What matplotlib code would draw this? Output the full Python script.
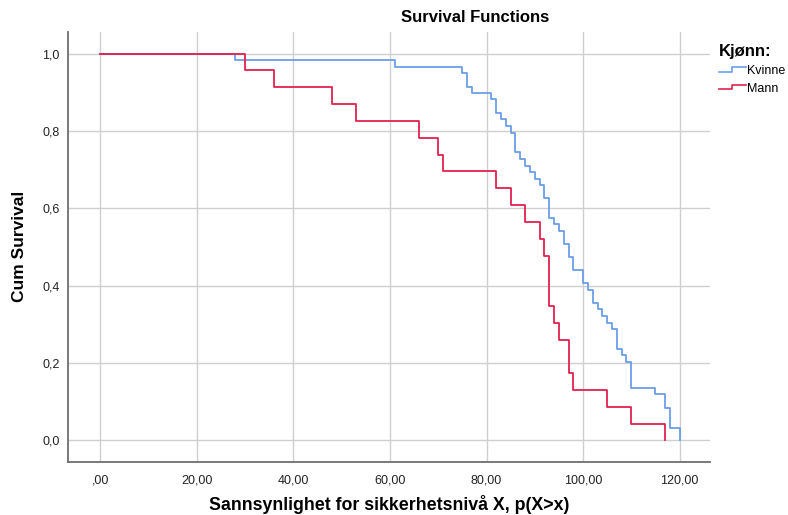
import matplotlib
matplotlib.use("Agg")
import matplotlib.pyplot as plt
from matplotlib.lines import Line2D
from matplotlib.legend_handler import HandlerBase
from matplotlib.ticker import FuncFormatter

plt.rcParams['font.family'] = ['Liberation Sans', 'DejaVu Sans']

# Kaplan-Meier steps (time, cumulative survival after the step)
kvinne_t = [0, 28, 61, 75, 76, 77, 81, 82, 83, 84, 85, 86, 87, 88, 89, 90, 91, 92,
            93, 94, 95, 96, 97, 98, 100, 101, 102, 103, 104, 105, 106, 107, 108,
            109, 110, 115, 117, 118, 120]
kvinne_s = [1.0, 0.983, 0.966, 0.950, 0.915, 0.899, 0.882, 0.847, 0.830, 0.813,
            0.796, 0.745, 0.728, 0.710, 0.693, 0.676, 0.660, 0.626, 0.576, 0.559,
            0.541, 0.509, 0.475, 0.440, 0.407, 0.390, 0.356, 0.339, 0.321, 0.304,
            0.288, 0.237, 0.220, 0.203, 0.136, 0.119, 0.085, 0.033, 0.0]

mann_t = [0, 30, 36, 48, 53, 66, 70, 71, 82, 85, 88, 91, 92, 93, 94, 95, 97, 98,
          105, 110, 117]
mann_s = [1.0, 0.957, 0.913, 0.870, 0.826, 0.783, 0.739, 0.696, 0.652, 0.609,
          0.565, 0.522, 0.478, 0.348, 0.304, 0.261, 0.174, 0.130, 0.087, 0.043, 0.0]

x_ticks = [0, 20, 40, 60, 80, 100, 120]
y_ticks = [0.0, 0.2, 0.4, 0.6, 0.8, 1.0]

blue = '#6b9ee8'
red = '#e0224e'


class StepHandler(HandlerBase):
    # little step glyph like the SPSS legend
    def create_artists(self, legend, orig_handle, xdescent, ydescent,
                       width, height, fontsize, trans):
        x0 = -xdescent
        y0 = -ydescent
        xs = [x0, x0 + width * 0.5, x0 + width * 0.5, x0 + width]
        ys = [y0 + height * 0.25, y0 + height * 0.25, y0 + height * 0.75, y0 + height * 0.75]
        ln = Line2D(xs, ys, color=orig_handle.get_color(), lw=1.2)
        ln.set_transform(trans)
        return [ln]


fig = plt.figure(figsize=(7.88, 5.15), dpi=100)
ax = fig.add_axes([68 / 788, 1 - 462 / 515, 642 / 788, 430 / 515])

l1, = ax.step(kvinne_t, kvinne_s, where='post', color=blue, lw=1.3, label='Kvinne')
l2, = ax.step(mann_t, mann_s, where='post', color=red, lw=1.3, label='Mann')

ax.set_xlim(-6.7, 126.3)
ax.set_ylim(-0.0556, 1.056)
ax.set_xticks(x_ticks)
ax.set_yticks(y_ticks)
ax.xaxis.set_major_formatter(FuncFormatter(
    lambda v, p: ',00' if v == 0 else ('%.2f' % v).replace('.', ',')))
ax.yaxis.set_major_formatter(FuncFormatter(lambda v, p: ('%.1f' % v).replace('.', ',')))
ax.tick_params(length=0, labelsize=9, colors='#222222')
ax.tick_params(axis='x', pad=9)
ax.tick_params(axis='y', pad=6)

ax.grid(True, color='#cfcfcf', lw=1.0)
ax.set_axisbelow(True)
for s in ['top', 'right']:
    ax.spines[s].set_visible(False)
for s in ['left', 'bottom']:
    ax.spines[s].set_color('#6e6e6e')
    ax.spines[s].set_linewidth(1.3)

fig.text(475 / 788, 1 - 18 / 515, 'Survival Functions', ha='center', va='center',
         fontsize=12, fontweight='bold')
fig.text(389 / 788, 1 - 505 / 515, 'Sannsynlighet for sikkerhetsnivå X, p(X>x)',
         ha='center', va='center', fontsize=12.8, fontweight='bold')
fig.text(20 / 788, 1 - 246 / 515, 'Cum Survival', ha='center', va='center',
         rotation=90, fontsize=12.5, fontweight='bold')

leg = ax.legend(handles=[l1, l2], handler_map={Line2D: StepHandler()},
                loc='upper left', bbox_to_anchor=(713 / 788, 1 - 38 / 515),
                bbox_transform=fig.transFigure, frameon=False, borderpad=0,
                handlelength=2.1, handletextpad=0.15, labelspacing=0.45,
                fontsize=9, title='Kjønn:', alignment='left',
                title_fontproperties={'weight': 'bold', 'size': 12})

fig.savefig('out.png', dpi=100)
